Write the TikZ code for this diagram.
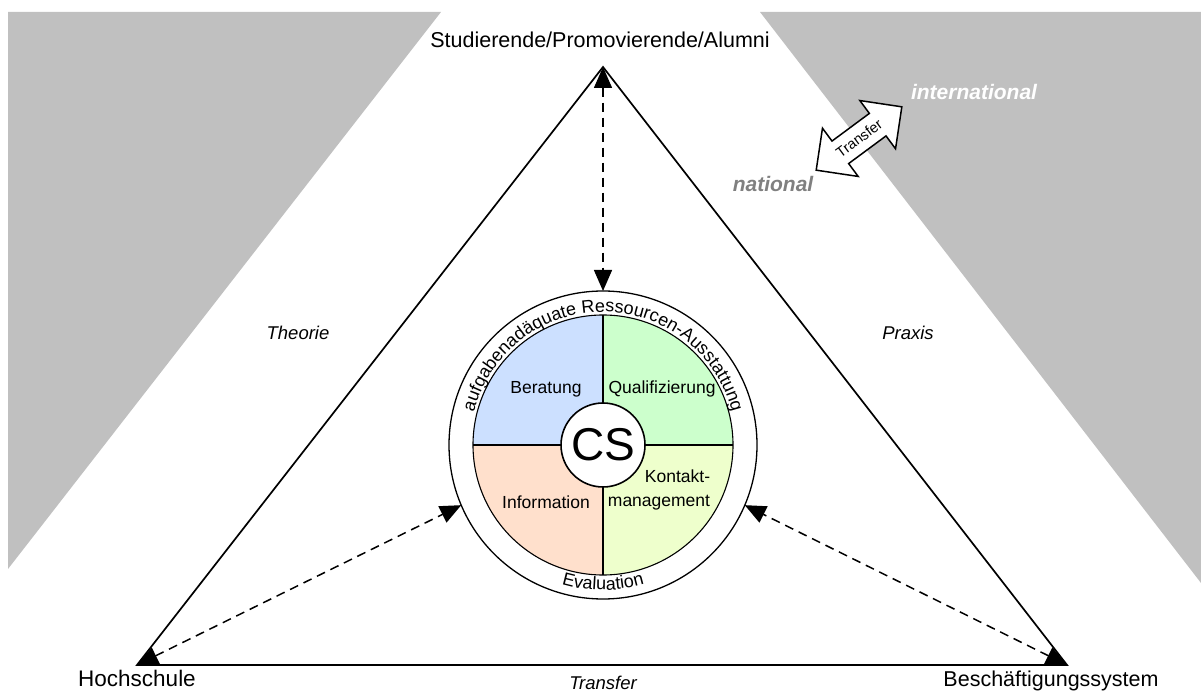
\documentclass[tikz,border=0pt]{standalone}
\usepackage{fontspec}
\setmainfont{Liberation Sans}
\usetikzlibrary{arrows.meta,decorations.text}
\definecolor{bggray}{RGB}{192,192,192}
\definecolor{qblue}{RGB}{204,224,255}
\definecolor{qgreen}{RGB}{204,255,204}
\definecolor{qpeach}{RGB}{255,224,204}
\definecolor{qlime}{RGB}{238,255,204}
\definecolor{natgray}{RGB}{128,128,128}

\begin{document}
\begin{tikzpicture}[x=1pt,y=1pt,
  edge/.style={line width=1.7pt, line join=miter},
  link/.style={line width=1.5pt, dash pattern=on 9pt off 6pt,
    {Triangle[length=21pt,width=18pt]}-{Triangle[length=21pt,width=18pt]}},
  corner/.style={font=\fontsize{21.5}{26}\selectfont, inner sep=0pt, anchor=base},
  side/.style={font=\fontsize{18.5}{22}\selectfont\itshape, inner sep=0pt},
  quad/.style={font=\fontsize{17.5}{24}\selectfont, inner sep=0pt, align=center},
  reach/.style={font=\fontsize{21}{25}\selectfont\bfseries\itshape, inner sep=0pt},
  ringtext/.style={decorate, decoration={text along path, text align=center, text={|\fontsize{18}{20}\selectfont|#1}}},
]
\useasboundingbox (0,0) rectangle (1201,693);

% grey background wedges
\fill[bggray] (8,681) -- (441,681) -- (8,124) -- cycle;
\fill[bggray] (760,681) -- (1201,681) -- (1201,110) -- cycle;

% vertices of the triangle and centre of the disc
\coordinate (A) at (603,626);
\coordinate (B) at (137,28);
\coordinate (C) at (1067,28);
\coordinate (O) at (603,248);

\draw[edge] (A) -- (B) -- (C) -- cycle;

% outer ring
\node[circle, draw, fill=white, line width=1.3pt, minimum size=308pt, inner sep=0pt, outer sep=0pt] (ring) at (O) {};

% four coloured quadrants
\fill[qblue]  (O) -- ([shift={(180:130)}]O) arc[start angle=180, end angle=90,  radius=130] -- cycle;
\fill[qgreen] (O) -- ([shift={(90:130)}]O)  arc[start angle=90,  end angle=0,   radius=130] -- cycle;
\fill[qpeach] (O) -- ([shift={(180:130)}]O) arc[start angle=180, end angle=270, radius=130] -- cycle;
\fill[qlime]  (O) -- ([shift={(270:130)}]O) arc[start angle=270, end angle=360, radius=130] -- cycle;
\draw[line width=1.1pt] (O) circle[radius=130];
\draw[line width=1.7pt] ([xshift=-130pt]O) -- ([xshift=130pt]O);
\draw[line width=1.7pt] ([yshift=130pt]O) -- ([yshift=-130pt]O);

\node[circle, draw, fill=white, line width=1.6pt, minimum size=84pt, inner sep=0pt,
      font=\fontsize{46}{46}\selectfont] (cs) at (O) {CS};

\node[quad] (ber)  at ([shift={(-57,56)}]O)  {Beratung};
\node[quad] (qual) at ([shift={(59,56)}]O)   {Qualifizierung};
\node[quad] (info) at ([shift={(-57,-57)}]O) {Information};
\node[quad, align=right] (kont) at ([shift={(56,-45)}]O) {Kontakt-\\management};

% texts inside the ring
\path[ringtext={aufgabenadäquate Ressourcen-Ausstattung}]
  ([shift={(180:133)}]O) arc[start angle=180, end angle=0, radius=133];
\path[ringtext={Evaluation}]
  ([shift={(180:145)}]O) arc[start angle=180, end angle=360, radius=145];

% dashed links between the vertices and the disc
\draw[link] (A) -- (ring.north);
\draw[link] (B) -- (ring.203);
\draw[link] (C) -- (ring.-23);

% labels
\node[corner] (stud)  at (600,645) {Studierende/Promovierende/Alumni};
\node[corner, font=\fontsize{22.5}{26}\selectfont] (hoch) at (137,7) {Hochschule};
\node[corner] (besch) at (1051,7)  {Beschäftigungssystem};
\node[side] (theo)  at (298,360) {Theorie};
\node[side] (prax)  at (908,360) {Praxis};
\node[side] (trans) at (603,10)  {Transfer};
\node[reach, text=white]   (intl) at (974,601)   {international};
\node[reach, text=natgray] (natl) at (773,508.5) {national};

% national / international transfer arrow
\begin{scope}[shift={(859,554.5)}, rotate=36.5]
  \draw[line width=1.5pt, fill=white, line join=miter]
    (53.25,0) -- (23.25,30) -- (23.25,14) -- (-23.25,14) -- (-23.25,30)
    -- (-53.25,0) -- (-23.25,-30) -- (-23.25,-14) -- (23.25,-14) -- (23.25,-30) -- cycle;
\end{scope}
\node[font=\fontsize{14.5}{16}\selectfont, inner sep=0pt, rotate=36.5] (xfer) at (859,554.5) {Transfer};
\end{tikzpicture}
\end{document}
